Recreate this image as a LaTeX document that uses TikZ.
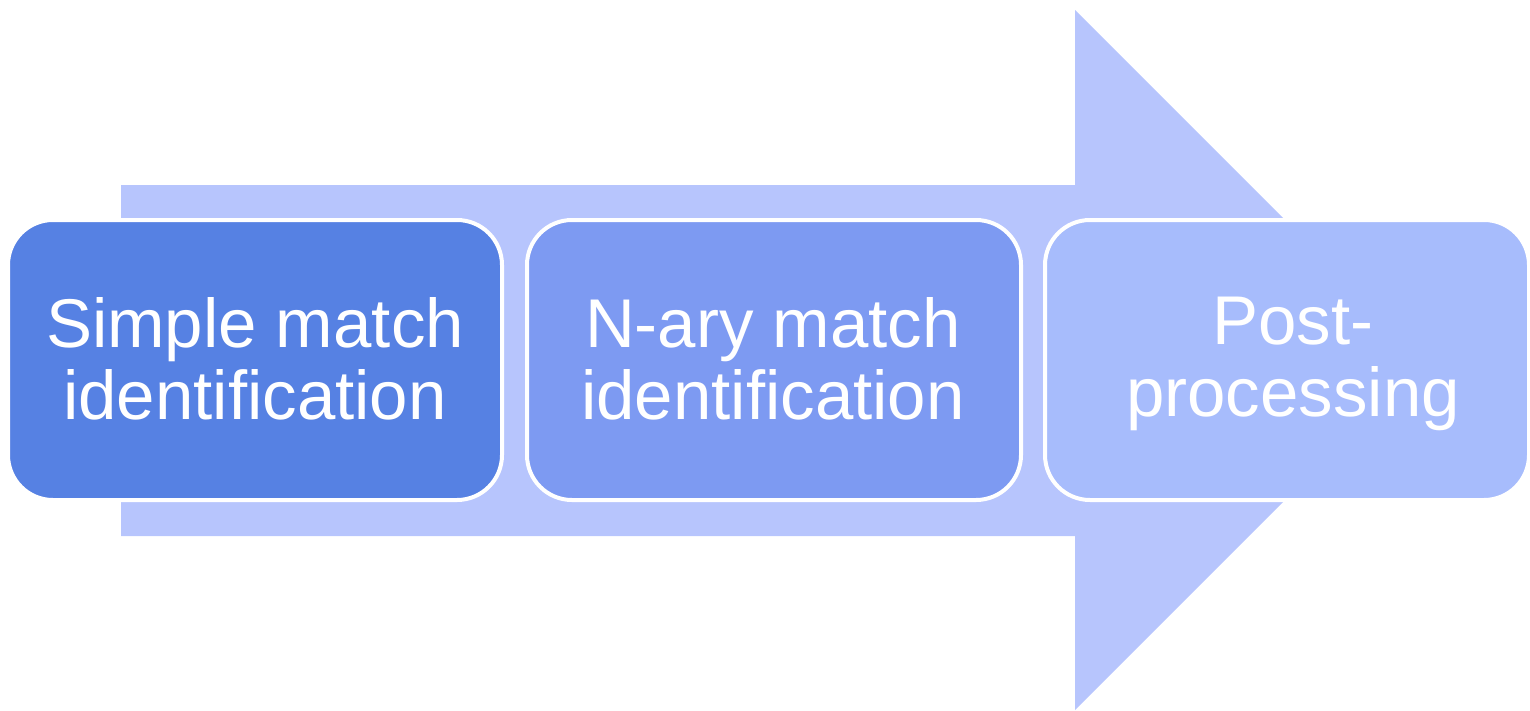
\documentclass[tikz,border=0pt]{standalone}
\usepackage{fontspec}
\setmainfont{Liberation Sans}
\definecolor{arrowblue}{RGB}{183,197,253}
\definecolor{stepone}{RGB}{86,129,227}
\definecolor{steptwo}{RGB}{125,154,242}
\definecolor{stepthree}{RGB}{167,188,252}
\tikzset{
  stage/.style={draw=white, line width=4pt, rounded corners=45pt},
  stagetext/.style={text=white, align=center, anchor=north,
    font=\fontsize{69}{72}\selectfont, inner sep=0pt}
}
\begin{document}
\begin{tikzpicture}[x=1pt,y=-1pt]
  \useasboundingbox (0,0) rectangle (1530,710);
  % background process arrow
  \fill[arrowblue] (121,185) -- (1075,185) -- (1075,10) -- (1425,360)
    -- (1075,710) -- (1075,536) -- (121,536) -- cycle;
  % stage boxes
  \path[stage, fill=stepone] (8,220) rectangle (502,500);
  \path[stage, fill=steptwo] (527,220) rectangle (1021,500);
  \path[stage, fill=stepthree] (1045,220) rectangle (1529,500);
  % labels
  \node[stagetext] (s1) at (255,297) {Simple match\\identification};
  \node[stagetext] (s2) at (773,297) {N-ary match\\identification};
  \node[stagetext] (s3) at (1293,297) {Post-\\processing};
\end{tikzpicture}
\end{document}
